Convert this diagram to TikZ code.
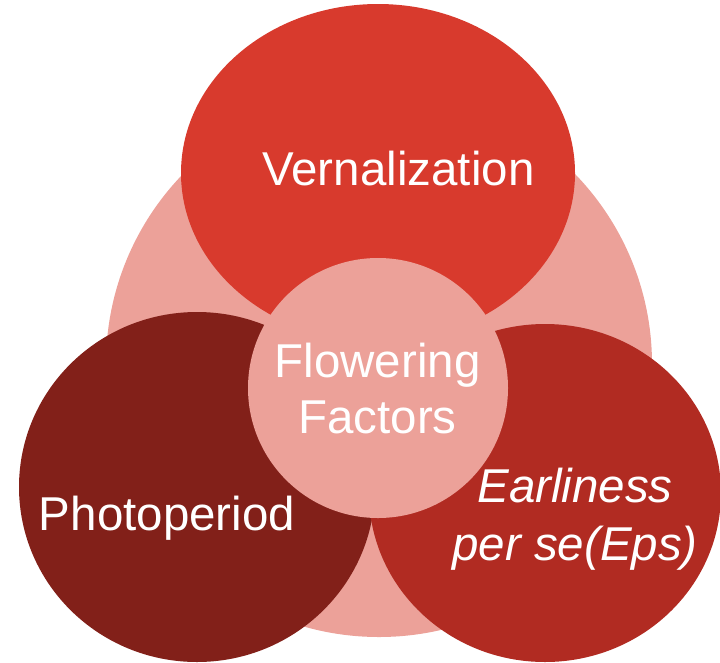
\documentclass[tikz,border=0pt]{standalone}
\usepackage{fontspec}
\setmainfont{Liberation Sans}
\usetikzlibrary{shapes.geometric}
\definecolor{pinkc}{HTML}{ECA199}
\definecolor{topred}{HTML}{D83A2D}
\definecolor{darkred}{HTML}{822019}
\definecolor{midred}{HTML}{B12B22}
\tikzset{
  blob/.style={shape=ellipse, draw=none, inner sep=0pt},
  lbl/.style={text=white, anchor=base, inner sep=0pt, align=center}
}
\begin{document}
\begin{tikzpicture}[x=1pt,y=-1pt]
\useasboundingbox (0,0) rectangle (720,662);
\node[blob, fill=pinkc, minimum width=546pt, minimum height=546pt] (big) at (379,364) {};
\node[blob, fill=topred, minimum width=394pt, minimum height=338pt] (vern) at (378,173) {};
\node[blob, fill=darkred, minimum width=356pt, minimum height=350pt] (photo) at (197,487) {};
\node[blob, fill=midred, minimum width=352pt, minimum height=338pt] (eps) at (545,493) {};
\node[blob, fill=pinkc, minimum width=260pt, minimum height=260pt] (flow) at (378,388) {};
\node[lbl, font=\fontsize{47.5}{56}\selectfont] (tvern) at (398.5,185) {Vernalization};
\node[lbl, font=\fontsize{47.5}{56}\selectfont] (tflow) at (377.5,433) {Flowering\\Factors};
\node[lbl, font=\fontsize{47.5}{56}\selectfont] (tphoto) at (167,530) {Photoperiod};
\node[lbl, font=\fontsize{47.5}{58}\selectfont\itshape] (teps) at (575,560) {Earliness\\per se(Eps)};
\end{tikzpicture}
\end{document}
